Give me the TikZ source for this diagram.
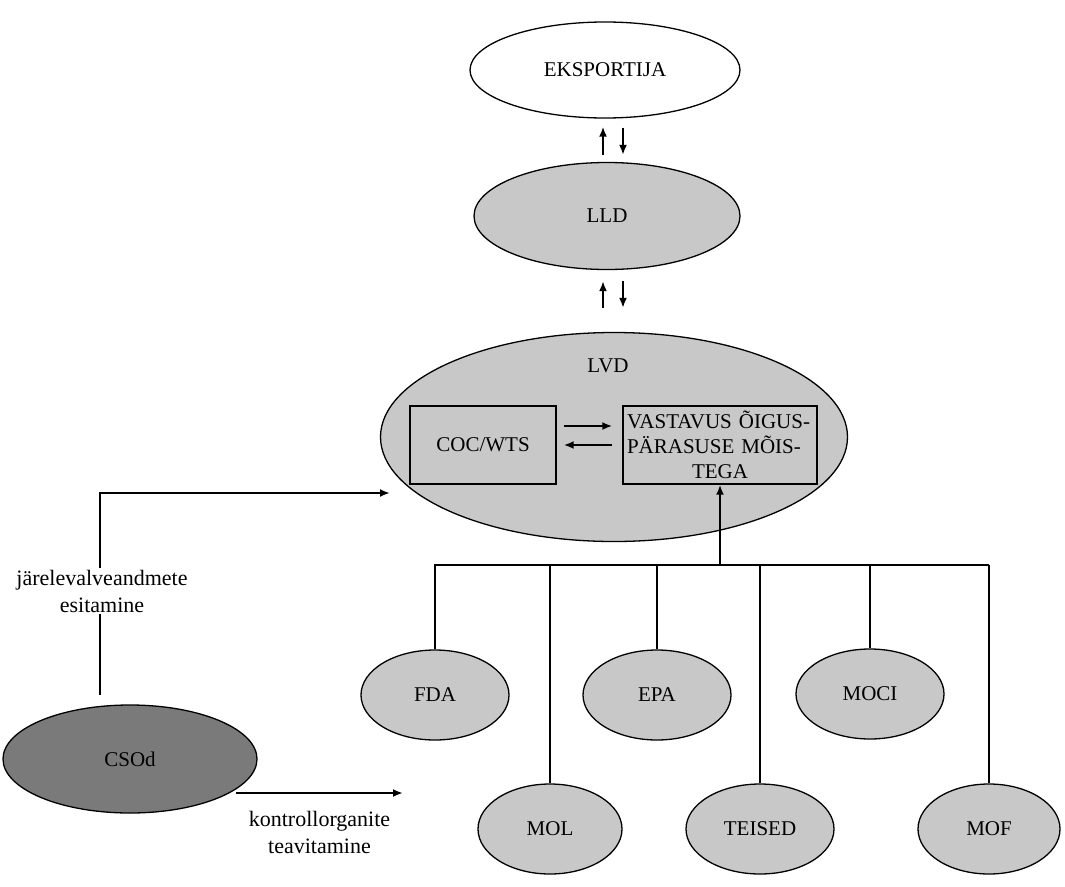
\documentclass[tikz,border=0pt]{standalone}
\usepackage{fontspec}
\setmainfont{Liberation Serif}
\usetikzlibrary{shapes,arrows.meta,positioning,calc}

\definecolor{agencygray}{RGB}{200,200,200}
\definecolor{csogray}{RGB}{122,122,122}

\begin{document}
\begin{tikzpicture}[
  x=1pt, y=-1pt,
  party/.style={
    ellipse, draw=black, line width=1.3pt, fill=agencygray,
    inner sep=0pt, font=\fontsize{21}{25}\selectfont
  },
  agency/.style={
    party, minimum width=148pt, minimum height=90pt
  },
  inbox/.style={
    rectangle, draw=black, line width=1.4pt, fill=agencygray,
    inner sep=0pt, font=\fontsize{21}{25}\selectfont, align=center
  },
  flow/.style={
    -{Latex[length=10pt,width=8pt]},
    line width=2pt, black
  },
  bus/.style={
    line width=1.8pt, black
  },
  note/.style={
    font=\fontsize{22}{27}\selectfont, fill=white, inner sep=2pt, align=center
  }
]
\useasboundingbox (0,0) rectangle (1065,886);

% ==================== CHAIN ====================

\node (exp) [party, fill=white, minimum width=270pt, minimum height=96pt] at (605,70) {EKSPORTIJA};
\node (lld) [party, minimum width=266pt, minimum height=107pt] at (607,216) {LLD};
\node (lvd) [party, minimum width=467pt, minimum height=209pt] at (614,437) {};
\node (lvdname) [font=\fontsize{21}{25}\selectfont] at (608,366) {LVD};

% boxes inside LVD
\node (coc) [inbox, minimum width=146pt, minimum height=78pt] at (483,445) {COC/WTS};
\node (vast) [inbox, minimum width=194pt, minimum height=78pt, text width=186pt] at (720,445) {
    \makebox[\linewidth][s]{VASTAVUS ÕIGUS-}\\
    \makebox[\linewidth][s]{PÄRASUSE MÕIS-}\\
    TEGA
};

% ==================== AGENCIES ====================

\node (fda)    [agency] at (435,695) {FDA};
\node (epa)    [agency] at (657,695) {EPA};
\node (moci)   [agency] at (870,694) {MOCI};
\node (mol)    [agency, minimum width=144pt] at (550,829) {MOL};
\node (teised) [agency] at (760,829) {TEISED};
\node (mof)    [agency, minimum width=142pt] at (989,829) {MOF};

\node (csod) [party, fill=csogray, minimum width=254pt, minimum height=108pt] at (130,759) {CSOd};

% ==================== CONNECTORS ====================

% exporter <-> LLD <-> LVD
\draw [flow, shorten <=7pt, shorten >=8pt] (lld.north -| 603,0) -- (exp.south -| 603,0);
\draw [flow, shorten <=9pt, shorten >=7pt] (exp.south -| 623,0) -- (lld.north -| 623,0);
\draw [flow, shorten <=24pt, shorten >=11pt] (lvd.north -| 603,0) -- (lld.south -| 603,0);
\draw [flow, shorten <=11pt, shorten >=24pt] (lld.south -| 623,0) -- (lvd.north -| 623,0);

% COC/WTS <-> compliance box
\draw [flow, shorten <=7pt, shorten >=10pt] (coc.east |- 0,426) -- (vast.west |- 0,426);
\draw [flow, shorten <=10pt, shorten >=7pt] (vast.west |- 0,445) -- (coc.east |- 0,445);

% agency bus
\coordinate (busL) at (434,565);
\coordinate (busR) at (989,565);
\draw [bus] (busL) -- (busR);
\foreach \n in {fda,epa,moci,mol,teised,mof}
  \draw [bus] (\n.north) -- (\n.north |- busL);
\draw [flow] (vast.south |- busL) -- (vast.south);

% CSOd -> LVD
\coordinate (upfrom) at (100,695);
\coordinate (upto) at (390,493);
\draw [flow] (upfrom) |- (upto);
\node (report) [note] at (102,591) {järelevalveandmete\\esitamine};

% CSOd -> agencies
\coordinate (infofrom) at (236,793);
\coordinate (infoto) at (403,793);
\draw [flow] (infofrom) -- (infoto);
\node (notify) [note, below=16pt of $(infofrom)!0.5!(infoto)$] {kontrollorganite\\teavitamine};

\end{tikzpicture}
\end{document}
